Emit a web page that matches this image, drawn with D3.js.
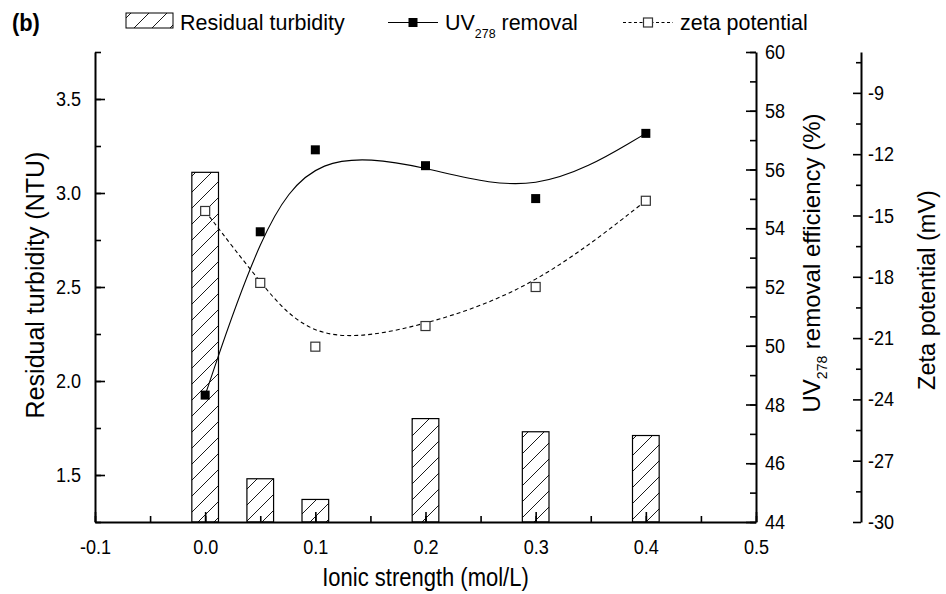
<!DOCTYPE html>
<html><head><meta charset="utf-8">
<script src="https://cdn.jsdelivr.net/npm/d3@7"></script>
<style>
body{margin:0;background:#fff;}
svg text{font-family:"Liberation Sans",Arial,sans-serif;fill:#000;}
</style></head>
<body><svg id="c" width="946" height="594"></svg>
<script>
// ---- data ----
const strength   = [0, 0.05, 0.1, 0.2, 0.3, 0.4];          // mol/L
const turbidity  = [3.11, 1.48, 1.37, 1.80, 1.73, 1.71];    // NTU
const uvRemoval  = [48.32, 53.88, 56.67, 56.13, 55.01, 57.23]; // %
const zeta       = [-14.78, -18.30, -21.42, -20.41, -18.50, -14.28]; // mV
const xTicks     = [-0.1, 0.0, 0.1, 0.2, 0.3, 0.4, 0.5];
const turbTicks  = [1.5, 2.0, 2.5, 3.0, 3.5];
const uvTicks    = [44, 46, 48, 50, 52, 54, 56, 58, 60];
const zetaTicks  = [-30, -27, -24, -21, -18, -15, -12, -9];

// ---- layout ----
const L = 95, R = 756, T = 52, B = 522, ZX = 861;
const svg = d3.select("#c");
svg.append("rect").attr("width",946).attr("height",594).attr("fill","#fff");

const x  = d3.scaleLinear().domain([-0.1, 0.5]).range([L, R]);
const yT = d3.scaleLinear().domain([1.25, 3.75]).range([B, T]);
const yU = d3.scaleLinear().domain([44, 60]).range([B, T]);
const yZ = d3.scaleLinear().domain([-30, -7]).range([B, T]);

// hatch patterns
const defs = svg.append("defs");
function hatch(id, s){
  const p = defs.append("pattern").attr("id", id).attr("patternUnits","userSpaceOnUse")
    .attr("width", s).attr("height", s);
  p.append("rect").attr("width",s).attr("height",s).attr("fill","#fff");
  p.append("path").attr("d",`M-1,${s+1}L${s+1},-1M${-s/2-1},${s/2+1}L${s/2+1},${-s/2-1}M${s/2-1},${s*1.5+1}L${s*1.5+1},${s/2-1}`)
    .attr("stroke","#000").attr("stroke-width",0.9);
}
hatch("h1", 16);
hatch("h2", 18);

// bars
const barW = 0.0242;
svg.append("g").selectAll("rect").data(strength).join("rect")
  .attr("x", (d)=> x(d - barW/2))
  .attr("width", (d)=> x(d + barW/2) - x(d - barW/2))
  .attr("y", (d,i)=> yT(turbidity[i]))
  .attr("height", (d,i)=> B - yT(turbidity[i]))
  .attr("fill","url(#h1)").attr("stroke","#000").attr("stroke-width",1.2);

// helpers
function narrow(sel, sx){
  sel.each(function(){
    const t = d3.select(this);
    const xx = +t.attr("x") || 0, yy = +t.attr("y") || 0;
    t.attr("transform", `translate(${xx},${yy}) scale(${sx},1)`).attr("x", null).attr("y", null);
  });
}
function styleAxis(g){
  g.select(".domain").attr("stroke","#000").attr("stroke-width",2);
  g.selectAll(".tick line").attr("stroke","#000").attr("stroke-width",1.6);
  g.selectAll("text").style("font-size","20.5px").attr("font-family",null);
  narrow(g.selectAll("text"), 0.88);
}
function minor(g){
  g.select(".domain").remove();
  g.selectAll(".tick line").attr("stroke","#000").attr("stroke-width",1.6);
}
const hy = (f)=> (d)=> f(d).replace("\u2212","-");
const fmt1 = hy(d3.format(".1f"));
const fmtD = hy(d3.format("d"));

// bottom
svg.append("g").attr("transform",`translate(0,${B})`)
  .call(d3.axisBottom(x).tickValues(d3.range(-0.1,0.5001,0.05)).tickSizeInner(-6).tickSizeOuter(0).tickFormat(""))
  .call(minor);
svg.append("g").attr("transform",`translate(0,${B})`)
  .call(d3.axisBottom(x).tickValues(xTicks).tickSizeInner(-10).tickSizeOuter(0).tickPadding(17).tickFormat(fmt1))
  .call(styleAxis);
// left
svg.append("g").attr("transform",`translate(${L},0)`)
  .call(d3.axisLeft(yT).tickValues(d3.range(1.25,3.7501,0.25)).tickSizeInner(-6).tickSizeOuter(0).tickFormat(""))
  .call(minor);
svg.append("g").attr("transform",`translate(${L},0)`)
  .call(d3.axisLeft(yT).tickValues(turbTicks).tickSizeInner(-10).tickSizeOuter(0).tickPadding(14).tickFormat(fmt1))
  .call(styleAxis);
// right UV
svg.append("g").attr("transform",`translate(${R},0)`)
  .call(d3.axisRight(yU).tickValues(d3.range(44,60.01,1)).tickSizeInner(-6).tickSizeOuter(0).tickFormat(""))
  .call(minor);
svg.append("g").attr("transform",`translate(${R},0)`)
  .call(d3.axisRight(yU).tickValues(uvTicks).tickSizeInner(-10).tickSizeOuter(0).tickPadding(9).tickFormat(fmtD))
  .call(styleAxis);
// zeta axis
svg.append("g").attr("transform",`translate(${ZX},0)`)
  .call(d3.axisRight(yZ).tickValues(d3.range(-28.5,-7.4,3)).tickSizeInner(-5).tickSizeOuter(0).tickFormat(""))
  .call(minor);
svg.append("g").attr("transform",`translate(${ZX},0)`)
  .call(d3.axisRight(yZ).tickValues(zetaTicks).tickSizeInner(-8).tickSizeOuter(0).tickPadding(7).tickFormat(fmtD))
  .call(styleAxis);

// curves
const pts = (arr, ys)=> strength.map((s,i)=>[x(s), ys(arr[i])]);
const line = d3.line().curve(d3.curveBasis);
svg.append("path").attr("d", line(pts(zeta, yZ))).attr("fill","none")
  .attr("stroke","#000").attr("stroke-width",1.1).attr("stroke-dasharray","4,3");
svg.append("path").attr("d", line(pts(uvRemoval, yU))).attr("fill","none")
  .attr("stroke","#000").attr("stroke-width",1.1);

// markers
const ms = 9;
svg.append("g").selectAll("rect").data(strength).join("rect")
  .attr("x",(d)=>x(d)-ms/2).attr("y",(d,i)=>yZ(zeta[i])-ms/2)
  .attr("width",ms).attr("height",ms).attr("fill","#fff").attr("stroke","#333").attr("stroke-width",1.2);
svg.append("g").selectAll("rect").data(strength).join("rect")
  .attr("x",(d)=>x(d)-ms/2).attr("y",(d,i)=>yU(uvRemoval[i])-ms/2)
  .attr("width",ms).attr("height",ms).attr("fill","#000");

// axis titles
svg.append("text").attr("transform",`translate(${(L+R)/2},586) scale(0.88,1)`)
  .attr("text-anchor","middle").style("font-size","25px").text("Ionic strength (mol/L)");
svg.append("text").attr("transform",`translate(44,285) rotate(-90)`)
  .attr("text-anchor","middle").style("font-size","25px").text("Residual turbidity (NTU)");
const uvt = svg.append("text").attr("transform",`translate(820,263) rotate(-90)`)
  .attr("text-anchor","middle").style("font-size","24px");
uvt.append("tspan").text("UV");
uvt.append("tspan").attr("dy",7).style("font-size","14px").text("278");
uvt.append("tspan").attr("dy",-7).text(" removal efficiency (%)");
svg.append("text").attr("transform",`translate(935,290) rotate(-90)`)
  .attr("text-anchor","middle").style("font-size","23.5px").text("Zeta potential (mV)");

// legend
svg.append("text").attr("transform","translate(12,31) scale(0.95,1)").style("font-size","23px").style("font-weight","bold").text("(b)");
svg.append("rect").attr("x",126).attr("y",13).attr("width",47).attr("height",15)
  .attr("fill","url(#h2)").attr("stroke","#000").attr("stroke-width",1);
svg.append("text").attr("transform","translate(180,30) scale(0.955,1)").style("font-size","22.5px").text("Residual turbidity");
svg.append("line").attr("x1",388).attr("x2",438).attr("y1",22.5).attr("y2",22.5).attr("stroke","#000").attr("stroke-width",1.1);
svg.append("rect").attr("x",413-ms/2).attr("y",22.5-ms/2).attr("width",ms).attr("height",ms).attr("fill","#000");
const lt = svg.append("text").attr("transform","translate(445,30) scale(0.955,1)").style("font-size","22.5px");
lt.append("tspan").text("UV");
lt.append("tspan").attr("dy",8).style("font-size","13px").text("278");
lt.append("tspan").attr("dy",-8).text(" removal");
svg.append("line").attr("x1",623).attr("x2",673).attr("y1",22.5).attr("y2",22.5).attr("stroke","#000").attr("stroke-width",1.1).attr("stroke-dasharray","3,2.5");
svg.append("rect").attr("x",648-ms/2).attr("y",22.5-ms/2).attr("width",ms).attr("height",ms).attr("fill","#fff").attr("stroke","#333").attr("stroke-width",1.2);
svg.append("text").attr("transform","translate(680,30) scale(0.955,1)").style("font-size","22.5px").text("zeta potential");
</script></body></html>
